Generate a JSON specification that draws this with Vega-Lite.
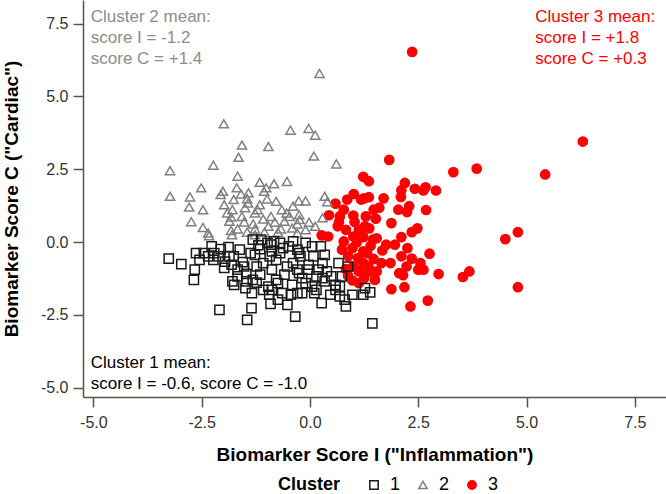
{
  "$schema": "https://vega.github.io/schema/vega-lite/v6.json",
  "width": 583,
  "height": 397,
  "autosize": {"type": "none"},
  "padding": {"left": 83, "top": 0, "right": 0, "bottom": 97},
  "config": {
    "view": {"stroke": null},
    "font": "Liberation Sans",
    "axis": {
      "domainColor": "#5a5448",
      "domainWidth": 1.5,
      "tickColor": "#5a5448",
      "tickWidth": 1.5,
      "tickSize": 10,
      "grid": false,
      "labelFont": "Liberation Sans",
      "labelFontSize": 16,
      "labelColor": "#333333",
      "titleFont": "Liberation Sans",
      "titleFontSize": 19,
      "titleFontWeight": "bold",
      "titleColor": "#000000"
    },
    "legend": {
      "labelFont": "Liberation Sans",
      "titleFont": "Liberation Sans"
    }
  },
  "datasets": {
    "pts": [
      {"x": 2.36, "y": 6.53, "cluster": "3"},
      {"x": 6.30, "y": 3.45, "cluster": "3"},
      {"x": 1.83, "y": 2.82, "cluster": "3"},
      {"x": 3.31, "y": 2.40, "cluster": "3"},
      {"x": 3.85, "y": 2.52, "cluster": "3"},
      {"x": 5.43, "y": 2.32, "cluster": "3"},
      {"x": 1.23, "y": 2.24, "cluster": "3"},
      {"x": 1.36, "y": 2.09, "cluster": "3"},
      {"x": 2.19, "y": 2.03, "cluster": "3"},
      {"x": 2.11, "y": 1.78, "cluster": "3"},
      {"x": 2.42, "y": 1.83, "cluster": "3"},
      {"x": 2.67, "y": 1.88, "cluster": "3"},
      {"x": 2.62, "y": 1.77, "cluster": "3"},
      {"x": 2.91, "y": 1.77, "cluster": "3"},
      {"x": 1.01, "y": 1.65, "cluster": "3"},
      {"x": 1.25, "y": 1.50, "cluster": "3"},
      {"x": 1.36, "y": 1.54, "cluster": "3"},
      {"x": 1.70, "y": 1.50, "cluster": "3"},
      {"x": 0.86, "y": 1.46, "cluster": "3"},
      {"x": 2.10, "y": 1.55, "cluster": "3"},
      {"x": 0.59, "y": 1.32, "cluster": "3"},
      {"x": 1.60, "y": 1.18, "cluster": "3"},
      {"x": 2.04, "y": 1.11, "cluster": "3"},
      {"x": 2.29, "y": 1.23, "cluster": "3"},
      {"x": 2.24, "y": 1.03, "cluster": "3"},
      {"x": 2.68, "y": 1.10, "cluster": "3"},
      {"x": 0.44, "y": 0.92, "cluster": "3"},
      {"x": 0.69, "y": 0.88, "cluster": "3"},
      {"x": 1.00, "y": 0.91, "cluster": "3"},
      {"x": 1.29, "y": 0.88, "cluster": "3"},
      {"x": 1.52, "y": 0.80, "cluster": "3"},
      {"x": 1.03, "y": 0.69, "cluster": "3"},
      {"x": 0.67, "y": 0.68, "cluster": "3"},
      {"x": 1.88, "y": 0.65, "cluster": "3"},
      {"x": 1.27, "y": 0.54, "cluster": "3"},
      {"x": 0.83, "y": 0.42, "cluster": "3"},
      {"x": 1.16, "y": 0.33, "cluster": "3"},
      {"x": 1.37, "y": 0.47, "cluster": "3"},
      {"x": 2.48, "y": 0.47, "cluster": "3"},
      {"x": 2.35, "y": 0.34, "cluster": "3"},
      {"x": 4.80, "y": 0.34, "cluster": "3"},
      {"x": 4.51, "y": 0.10, "cluster": "3"},
      {"x": 0.27, "y": 0.23, "cluster": "3"},
      {"x": 0.42, "y": 0.19, "cluster": "3"},
      {"x": 1.00, "y": 0.19, "cluster": "3"},
      {"x": 1.23, "y": 0.17, "cluster": "3"},
      {"x": 1.54, "y": 0.13, "cluster": "3"},
      {"x": 2.11, "y": 0.17, "cluster": "3"},
      {"x": 0.78, "y": 0.02, "cluster": "3"},
      {"x": 1.08, "y": -0.01, "cluster": "3"},
      {"x": 1.40, "y": -0.13, "cluster": "3"},
      {"x": 1.96, "y": -0.09, "cluster": "3"},
      {"x": 2.25, "y": -0.21, "cluster": "3"},
      {"x": 0.74, "y": -0.26, "cluster": "3"},
      {"x": 0.98, "y": -0.21, "cluster": "3"},
      {"x": 1.32, "y": -0.38, "cluster": "3"},
      {"x": 1.67, "y": -0.29, "cluster": "3"},
      {"x": 2.76, "y": -0.40, "cluster": "3"},
      {"x": 2.11, "y": -0.49, "cluster": "3"},
      {"x": 2.35, "y": -0.57, "cluster": "3"},
      {"x": 1.11, "y": -0.55, "cluster": "3"},
      {"x": 1.47, "y": -0.58, "cluster": "3"},
      {"x": 1.65, "y": -0.72, "cluster": "3"},
      {"x": 1.23, "y": -0.72, "cluster": "3"},
      {"x": 2.55, "y": -0.72, "cluster": "3"},
      {"x": 1.00, "y": -0.84, "cluster": "3"},
      {"x": 1.35, "y": -0.84, "cluster": "3"},
      {"x": 2.23, "y": -0.84, "cluster": "3"},
      {"x": 2.62, "y": -0.95, "cluster": "3"},
      {"x": 1.13, "y": -1.01, "cluster": "3"},
      {"x": 1.54, "y": -1.01, "cluster": "3"},
      {"x": 0.88, "y": -1.16, "cluster": "3"},
      {"x": 2.06, "y": -1.07, "cluster": "3"},
      {"x": 2.15, "y": -1.14, "cluster": "3"},
      {"x": 2.97, "y": -1.10, "cluster": "3"},
      {"x": 3.68, "y": -1.01, "cluster": "3"},
      {"x": 3.53, "y": -1.20, "cluster": "3"},
      {"x": 1.25, "y": -1.24, "cluster": "3"},
      {"x": 1.50, "y": -1.30, "cluster": "3"},
      {"x": 0.98, "y": -1.32, "cluster": "3"},
      {"x": 4.80, "y": -1.55, "cluster": "3"},
      {"x": 1.88, "y": -1.62, "cluster": "3"},
      {"x": 2.18, "y": -1.55, "cluster": "3"},
      {"x": 2.72, "y": -2.01, "cluster": "3"},
      {"x": 2.32, "y": -2.21, "cluster": "3"},
      {"x": 0.88, "y": -0.49, "cluster": "3"},
      {"x": 1.23, "y": -0.32, "cluster": "3"},
      {"x": 1.45, "y": 0.08, "cluster": "3"},
      {"x": 1.13, "y": 0.42, "cluster": "3"},
      {"x": 1.47, "y": 1.11, "cluster": "3"},
      {"x": 0.78, "y": 1.11, "cluster": "3"},
      {"x": 0.64, "y": 0.54, "cluster": "3"},
      {"x": 1.18, "y": 1.46, "cluster": "3"},
      {"x": 1.76, "y": -0.09, "cluster": "3"},
      {"x": 0.83, "y": -0.93, "cluster": "3"},
      {"x": 1.37, "y": -1.01, "cluster": "3"},
      {"x": 1.86, "y": -0.72, "cluster": "3"},
      {"x": 2.50, "y": -0.95, "cluster": "3"},
      {"x": 1.13, "y": -1.41, "cluster": "3"},

      {"x": 0.22, "y": 5.79, "cluster": "2"},
      {"x": -1.99, "y": 4.06, "cluster": "2"},
      {"x": -0.45, "y": 3.84, "cluster": "2"},
      {"x": -0.03, "y": 3.90, "cluster": "2"},
      {"x": 0.12, "y": 3.67, "cluster": "2"},
      {"x": -1.57, "y": 3.33, "cluster": "2"},
      {"x": -0.96, "y": 3.28, "cluster": "2"},
      {"x": -1.65, "y": 2.91, "cluster": "2"},
      {"x": 0.09, "y": 2.95, "cluster": "2"},
      {"x": -3.23, "y": 2.45, "cluster": "2"},
      {"x": -2.23, "y": 2.64, "cluster": "2"},
      {"x": 0.61, "y": 2.68, "cluster": "2"},
      {"x": -1.67, "y": 2.26, "cluster": "2"},
      {"x": -0.53, "y": 2.08, "cluster": "2"},
      {"x": -1.16, "y": 2.05, "cluster": "2"},
      {"x": -0.83, "y": 2.00, "cluster": "2"},
      {"x": -1.01, "y": 1.86, "cluster": "2"},
      {"x": -2.51, "y": 1.86, "cluster": "2"},
      {"x": -2.01, "y": 1.74, "cluster": "2"},
      {"x": -1.69, "y": 1.86, "cluster": "2"},
      {"x": -3.23, "y": 1.57, "cluster": "2"},
      {"x": -2.77, "y": 1.55, "cluster": "2"},
      {"x": -1.59, "y": 1.65, "cluster": "2"},
      {"x": -1.42, "y": 1.69, "cluster": "2"},
      {"x": -1.06, "y": 1.74, "cluster": "2"},
      {"x": 0.34, "y": 1.57, "cluster": "2"},
      {"x": -1.76, "y": 1.46, "cluster": "2"},
      {"x": -1.45, "y": 1.49, "cluster": "2"},
      {"x": -0.99, "y": 1.48, "cluster": "2"},
      {"x": -0.26, "y": 1.41, "cluster": "2"},
      {"x": -0.10, "y": 1.41, "cluster": "2"},
      {"x": 0.40, "y": 1.38, "cluster": "2"},
      {"x": -2.79, "y": 1.20, "cluster": "2"},
      {"x": -2.47, "y": 1.11, "cluster": "2"},
      {"x": -1.98, "y": 1.28, "cluster": "2"},
      {"x": -1.50, "y": 1.18, "cluster": "2"},
      {"x": -1.21, "y": 1.11, "cluster": "2"},
      {"x": -0.65, "y": 1.11, "cluster": "2"},
      {"x": -1.79, "y": 1.11, "cluster": "2"},
      {"x": -1.27, "y": 1.00, "cluster": "2"},
      {"x": -0.90, "y": 0.88, "cluster": "2"},
      {"x": -0.54, "y": 1.00, "cluster": "2"},
      {"x": -0.47, "y": 0.88, "cluster": "2"},
      {"x": -1.82, "y": 0.86, "cluster": "2"},
      {"x": -1.08, "y": 0.79, "cluster": "2"},
      {"x": -0.24, "y": 0.77, "cluster": "2"},
      {"x": -2.74, "y": 0.70, "cluster": "2"},
      {"x": -1.86, "y": 0.71, "cluster": "2"},
      {"x": -1.52, "y": 0.69, "cluster": "2"},
      {"x": -0.81, "y": 0.68, "cluster": "2"},
      {"x": -1.31, "y": 0.62, "cluster": "2"},
      {"x": -0.29, "y": 0.62, "cluster": "2"},
      {"x": -0.02, "y": 0.68, "cluster": "2"},
      {"x": -2.47, "y": 0.50, "cluster": "2"},
      {"x": 0.12, "y": 0.54, "cluster": "2"},
      {"x": -1.67, "y": 0.45, "cluster": "2"},
      {"x": -1.27, "y": 0.45, "cluster": "2"},
      {"x": -1.82, "y": 0.40, "cluster": "2"},
      {"x": -0.67, "y": 0.45, "cluster": "2"},
      {"x": -0.41, "y": 0.48, "cluster": "2"},
      {"x": -0.10, "y": 0.42, "cluster": "2"},
      {"x": -2.35, "y": 0.31, "cluster": "2"},
      {"x": -1.45, "y": 0.34, "cluster": "2"},
      {"x": -1.05, "y": 0.34, "cluster": "2"},
      {"x": -0.74, "y": 0.34, "cluster": "2"},
      {"x": -2.33, "y": 0.22, "cluster": "2"},
      {"x": -1.80, "y": 0.25, "cluster": "2"},
      {"x": -0.29, "y": 0.31, "cluster": "2"},
      {"x": 0.29, "y": 0.83, "cluster": "2"},
      {"x": -1.43, "y": 1.34, "cluster": "2"},
      {"x": -0.39, "y": 1.23, "cluster": "2"},
      {"x": -1.16, "y": 1.28, "cluster": "2"},
      {"x": -0.78, "y": 1.40, "cluster": "2"},
      {"x": -2.06, "y": 1.63, "cluster": "2"},
      {"x": -0.96, "y": 0.54, "cluster": "2"},
      {"x": -1.57, "y": 0.88, "cluster": "2"},
      {"x": -0.59, "y": 0.71, "cluster": "2"},
      {"x": -0.25, "y": 0.94, "cluster": "2"},
      {"x": -1.27, "y": 0.25, "cluster": "2"},
      {"x": -1.91, "y": 1.00, "cluster": "2"},

      {"x": -3.26, "y": -0.57, "cluster": "1"},
      {"x": -2.97, "y": -0.76, "cluster": "1"},
      {"x": -2.68, "y": -1.30, "cluster": "1"},
      {"x": -2.63, "y": -0.38, "cluster": "1"},
      {"x": -2.66, "y": -0.95, "cluster": "1"},
      {"x": -2.45, "y": -0.38, "cluster": "1"},
      {"x": -2.55, "y": -0.61, "cluster": "1"},
      {"x": -2.27, "y": -0.15, "cluster": "1"},
      {"x": -2.21, "y": -0.38, "cluster": "1"},
      {"x": -2.23, "y": -0.61, "cluster": "1"},
      {"x": -2.06, "y": -0.24, "cluster": "1"},
      {"x": -1.88, "y": -0.17, "cluster": "1"},
      {"x": -1.96, "y": -0.67, "cluster": "1"},
      {"x": -1.98, "y": -0.89, "cluster": "1"},
      {"x": -1.81, "y": -0.78, "cluster": "1"},
      {"x": -1.79, "y": -1.35, "cluster": "1"},
      {"x": -1.75, "y": -1.47, "cluster": "1"},
      {"x": -2.09, "y": -2.33, "cluster": "1"},
      {"x": -1.62, "y": -0.26, "cluster": "1"},
      {"x": -1.55, "y": -0.69, "cluster": "1"},
      {"x": -1.47, "y": -1.09, "cluster": "1"},
      {"x": -1.49, "y": -1.58, "cluster": "1"},
      {"x": -1.34, "y": -1.75, "cluster": "1"},
      {"x": -1.35, "y": -2.27, "cluster": "1"},
      {"x": -1.45, "y": -2.67, "cluster": "1"},
      {"x": -1.32, "y": 0.08, "cluster": "1"},
      {"x": -1.19, "y": -0.11, "cluster": "1"},
      {"x": -1.15, "y": -0.24, "cluster": "1"},
      {"x": -1.23, "y": -0.84, "cluster": "1"},
      {"x": -1.15, "y": -1.12, "cluster": "1"},
      {"x": -1.23, "y": -1.39, "cluster": "1"},
      {"x": -0.98, "y": -0.03, "cluster": "1"},
      {"x": -0.89, "y": -0.09, "cluster": "1"},
      {"x": -0.93, "y": -0.49, "cluster": "1"},
      {"x": -0.94, "y": -1.81, "cluster": "1"},
      {"x": -0.91, "y": -2.12, "cluster": "1"},
      {"x": -0.83, "y": 0.02, "cluster": "1"},
      {"x": -0.78, "y": -1.30, "cluster": "1"},
      {"x": -0.74, "y": -1.41, "cluster": "1"},
      {"x": -0.74, "y": -1.98, "cluster": "1"},
      {"x": -0.69, "y": -0.38, "cluster": "1"},
      {"x": -0.62, "y": -0.21, "cluster": "1"},
      {"x": -0.59, "y": -1.12, "cluster": "1"},
      {"x": -0.52, "y": -2.16, "cluster": "1"},
      {"x": -0.39, "y": 0.02, "cluster": "1"},
      {"x": -0.41, "y": -1.47, "cluster": "1"},
      {"x": -0.44, "y": -1.81, "cluster": "1"},
      {"x": -0.34, "y": -2.56, "cluster": "1"},
      {"x": -0.29, "y": -0.26, "cluster": "1"},
      {"x": -0.22, "y": -0.49, "cluster": "1"},
      {"x": -0.25, "y": -1.07, "cluster": "1"},
      {"x": -0.10, "y": -0.03, "cluster": "1"},
      {"x": -0.18, "y": -1.75, "cluster": "1"},
      {"x": -0.03, "y": -0.78, "cluster": "1"},
      {"x": 0.05, "y": -0.15, "cluster": "1"},
      {"x": 0.08, "y": -0.49, "cluster": "1"},
      {"x": 0.15, "y": -1.18, "cluster": "1"},
      {"x": 0.15, "y": -1.64, "cluster": "1"},
      {"x": 0.27, "y": -2.10, "cluster": "1"},
      {"x": 0.29, "y": -0.72, "cluster": "1"},
      {"x": 0.34, "y": -0.44, "cluster": "1"},
      {"x": 0.39, "y": -1.01, "cluster": "1"},
      {"x": 0.47, "y": -1.81, "cluster": "1"},
      {"x": 0.59, "y": -1.47, "cluster": "1"},
      {"x": 0.66, "y": -0.72, "cluster": "1"},
      {"x": 0.69, "y": -1.52, "cluster": "1"},
      {"x": 0.80, "y": -1.98, "cluster": "1"},
      {"x": 0.83, "y": -2.21, "cluster": "1"},
      {"x": 0.98, "y": -1.81, "cluster": "1"},
      {"x": 1.23, "y": -1.81, "cluster": "1"},
      {"x": 1.27, "y": -1.58, "cluster": "1"},
      {"x": 1.39, "y": -1.73, "cluster": "1"},
      {"x": 1.44, "y": -2.79, "cluster": "1"},
      {"x": 0.88, "y": -0.84, "cluster": "1"},
      {"x": 0.74, "y": -1.18, "cluster": "1"},
      {"x": -2.11, "y": -0.49, "cluster": "1"},
      {"x": -1.76, "y": -0.49, "cluster": "1"},
      {"x": -1.67, "y": -0.95, "cluster": "1"},
      {"x": -1.37, "y": -0.38, "cluster": "1"},
      {"x": -1.08, "y": -0.72, "cluster": "1"},
      {"x": -0.88, "y": -0.95, "cluster": "1"},
      {"x": -1.32, "y": -1.30, "cluster": "1"},
      {"x": -0.96, "y": -1.53, "cluster": "1"},
      {"x": -0.64, "y": -1.75, "cluster": "1"},
      {"x": -0.39, "y": -0.72, "cluster": "1"},
      {"x": -0.29, "y": -1.75, "cluster": "1"},
      {"x": -0.10, "y": -1.41, "cluster": "1"},
      {"x": 0.05, "y": -1.53, "cluster": "1"},
      {"x": 0.10, "y": -1.75, "cluster": "1"},
      {"x": 0.25, "y": -0.15, "cluster": "1"},
      {"x": 0.20, "y": -0.95, "cluster": "1"},
      {"x": -0.49, "y": -0.15, "cluster": "1"},
      {"x": -0.69, "y": -0.03, "cluster": "1"},
      {"x": -1.13, "y": 0.08, "cluster": "1"},
      {"x": -1.27, "y": -0.44, "cluster": "1"},
      {"x": -1.52, "y": -0.84, "cluster": "1"},
      {"x": -0.78, "y": -0.61, "cluster": "1"},
      {"x": -0.25, "y": -0.38, "cluster": "1"},
      {"x": -0.05, "y": -0.95, "cluster": "1"},
      {"x": 0.49, "y": -1.18, "cluster": "1"},
      {"x": 0.34, "y": -1.35, "cluster": "1"},
      {"x": -1.67, "y": -1.18, "cluster": "1"},
      {"x": -1.86, "y": -0.49, "cluster": "1"},
      {"x": -2.35, "y": -0.49, "cluster": "1"},
      {"x": -0.88, "y": -0.32, "cluster": "1"},
      {"x": -0.53, "y": -0.84, "cluster": "1"},
      {"x": -0.29, "y": -0.95, "cluster": "1"},
      {"x": -0.18, "y": -1.24, "cluster": "1"},
      {"x": -0.88, "y": -1.64, "cluster": "1"},
      {"x": -1.08, "y": -1.64, "cluster": "1"},
      {"x": -1.47, "y": -1.35, "cluster": "1"},
      {"x": 0.29, "y": -1.24, "cluster": "1"},
      {"x": 0.59, "y": -1.64, "cluster": "1"},
      {"x": 0.69, "y": -1.87, "cluster": "1"}
    ]
  },
  "layer": [
    {
      "data": {"name": "pts"},
      "mark": {"type": "point", "size": 85, "strokeWidth": 1.5, "opacity": 1},
      "encoding": {
        "x": {
          "field": "x", "type": "quantitative",
          "title": "Biomarker Score I (\"Inflammation\")",
          "scale": {"domain": [-5.24, 8.22], "nice": false, "zero": false},
          "axis": {"values": [-5, -2.5, 0, 2.5, 5, 7.5], "labelExpr": "replace(format(datum.value, '.1f'), '\u2212', '-')", "labelPadding": 7, "titlePadding": 15, "labelFlush": false}
        },
        "y": {
          "field": "y", "type": "quantitative",
          "title": "Biomarker Score C (\"Cardiac\")",
          "scale": {"domain": [-5.32, 8.31], "nice": false, "zero": false},
          "axis": {"values": [-5, -2.5, 0, 2.5, 5, 7.5], "labelExpr": "replace(format(datum.value, '.1f'), '\u2212', '-')", "labelPadding": 5, "titlePadding": 19, "labelFlush": false}
        },
        "shape": {
          "field": "cluster", "type": "nominal", "title": "Cluster",
          "scale": {"domain": ["1", "2", "3"], "range": ["square", "triangle-up", "circle"]}
        },
        "stroke": {
          "field": "cluster", "type": "nominal", "title": "Cluster",
          "scale": {"domain": ["1", "2", "3"], "range": ["#1a1a1a", "#808080", "#ff0000"]}
        },
        "fill": {
          "field": "cluster", "type": "nominal", "title": "Cluster",
          "scale": {"domain": ["1", "2", "3"], "range": ["transparent", "transparent", "#ff0000"]},
          "legend": {
            "orient": "none", "legendX": 195, "legendY": 476, "direction": "horizontal", "titleOrient": "left",
            "titleFontSize": 18, "titleFontWeight": "bold", "titleColor": "#000000",
            "labelFontSize": 18, "labelColor": "#000000", "symbolSize": 70,
            "symbolStrokeWidth": 1.5, "columnPadding": 13, "labelOffset": 7, "titlePadding": 24
          }
        }
      }
    },
    {
      "data": {"values": [{"label": "Cluster 2 mean:\nscore I = -1.2\nscore C = +1.4"}]},
      "mark": {"type": "text", "align": "left", "baseline": "top", "lineBreak": "\n", "lineHeight": 21, "fontSize": 17, "color": "#8c8c8c", "font": "Liberation Sans"},
      "encoding": {"x": {"datum": -5.06}, "y": {"datum": 8.0}, "text": {"field": "label"}}
    },
    {
      "data": {"values": [{"label": "Cluster 3 mean:\nscore I = +1.8\nscore C = +0.3"}]},
      "mark": {"type": "text", "align": "left", "baseline": "top", "lineBreak": "\n", "lineHeight": 21, "fontSize": 17, "color": "#ff0000", "font": "Liberation Sans"},
      "encoding": {"x": {"datum": 5.2}, "y": {"datum": 8.0}, "text": {"field": "label"}}
    },
    {
      "data": {"values": [{"label": "Cluster 1 mean:\nscore I = -0.6, score C = -1.0"}]},
      "mark": {"type": "text", "align": "left", "baseline": "top", "lineBreak": "\n", "lineHeight": 21, "fontSize": 17, "color": "#000000", "font": "Liberation Sans"},
      "encoding": {"x": {"datum": -5.06}, "y": {"datum": -3.88}, "text": {"field": "label"}}
    }
  ]
}
